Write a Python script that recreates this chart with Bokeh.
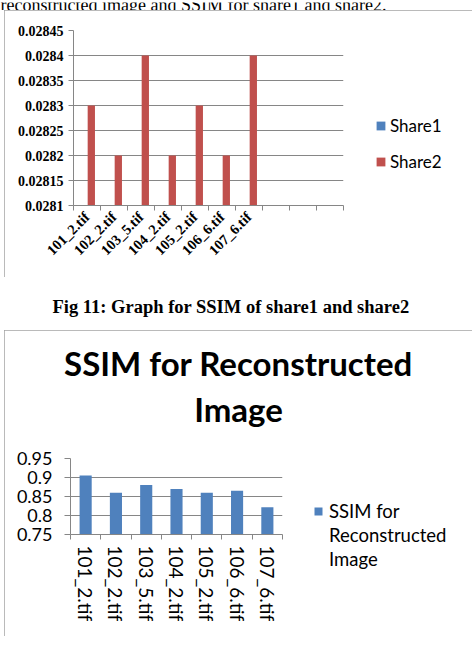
import math

from bokeh.embed import file_html
from bokeh.models import (CustomJSTickFormatter, FixedTicker, Label, Legend,
                          LegendItem, Range1d)
from bokeh.plotting import figure
from bokeh.resources import INLINE

# ---- data -------------------------------------------------------------
files = ["101_2.tif", "102_2.tif", "103_5.tif", "104_2.tif",
         "105_2.tif", "106_6.tif", "107_6.tif"]

# SSIM of the two shares (Share1 carries no values in this chart)
share1 = []
share2 = [0.0283, 0.0282, 0.0284, 0.0282, 0.0283, 0.0282, 0.0284]
share_slots = 10
share_ticks = [0.0281, 0.02815, 0.0282, 0.02825, 0.0283, 0.02835, 0.0284, 0.02845]
share_series = ["Share1", "Share2"]

# SSIM of the reconstructed image
ssim = [0.905, 0.86, 0.88, 0.87, 0.86, 0.865, 0.822]
ssim_ticks = [0.75, 0.8, 0.85, 0.9, 0.95]

head_text = "reconstructed image and SSIM for share1 and share2."
caption_text = "Fig 11: Graph for SSIM of share1 and share2"
ssim_title = ["SSIM for Reconstructed", "Image"]
ssim_legend = ["SSIM for", "Reconstructed", "Image"]

# ---- styling ----------------------------------------------------------
GRID = "#868686"
BLUE = "#4F81BD"
RED = "#C0504D"
SERIF = "Liberation Serif"
SANS = "Lato"


def place(p, left, top, boxed=False):
    """Pin a root element at a fixed spot of the page."""
    st = {"position": "absolute", "left": "%dpx" % left, "top": "%dpx" % top,
          "width": "%dpx" % p.width, "height": "%dpx" % p.height}
    if boxed:
        st.update({"outline": "2px solid #a3a3a3", "outline-offset": "-2px"})
    p.styles = st
    return p


name_fmt = CustomJSTickFormatter(args=dict(names=files),
                                 code="return names[Math.floor(tick)] || '';")


def num_fmt(digits):
    return CustomJSTickFormatter(
        code="return String(parseFloat(tick.toFixed(%d)));" % digits)


def blank_fig(width, height):
    p = figure(width=width, height=height, x_range=Range1d(0, width),
               y_range=Range1d(0, height), x_axis_type=None, y_axis_type=None,
               output_backend="svg", toolbar_location=None,
               min_border_left=0, min_border_right=0,
               min_border_top=0, min_border_bottom=0,
               outline_line_color=None, border_fill_alpha=0,
               background_fill_alpha=0)
    p.grid.visible = False
    return p


def style_cat_axis(ax, slots):
    ax.ticker = FixedTicker(ticks=centers, minor_ticks=list(range(slots + 1)))
    ax.formatter = name_fmt
    ax.major_tick_out = 0
    ax.major_tick_in = 0
    ax.major_tick_line_color = None
    ax.minor_tick_out = 5
    ax.minor_tick_in = 0
    ax.minor_tick_line_color = GRID
    ax.axis_line_color = GRID
    ax.major_label_text_color = "black"


def style_val_axis(ax, ticks, digits, tick_out):
    ax.ticker = FixedTicker(ticks=ticks)
    ax.formatter = num_fmt(digits)
    ax.major_tick_out = tick_out
    ax.major_tick_in = 0
    ax.major_tick_line_color = GRID
    ax.minor_tick_line_color = None
    ax.axis_line_color = GRID
    ax.major_label_text_color = "black"


centers = [i + 0.5 for i in range(len(files))]

# ---- running text above the first chart --------------------------------
head = place(blank_fig(475, 10), 0, 0)
head.add_layout(Label(x=0, y=7.5, text=head_text, text_font=SERIF,
                      text_font_size="18px", text_color="black",
                      text_baseline="alphabetic"))

# ---- chart 1: SSIM of share1 and share2 --------------------------------
p1 = figure(width=468, height=267, x_range=Range1d(0, share_slots),
            y_range=Range1d(share_ticks[0], share_ticks[-1]),
            output_backend="svg", toolbar_location=None,
            min_border_left=69, min_border_right=129,
            min_border_top=20, min_border_bottom=72,
            outline_line_color=None)
place(p1, 4, 10, boxed=True)

p1.vbar(x=[c - 0.16 for c in centers[:len(share1)]], top=share1,
        bottom=share_ticks[0], width=0.27, fill_color=BLUE, line_color=None)
p1.vbar(x=[c + 0.16 for c in centers], top=share2,
        bottom=share_ticks[0], width=0.27, fill_color=RED, line_color=None)

xa = p1.xaxis[0]
style_cat_axis(xa, share_slots)
xa.major_label_orientation = math.pi / 4
xa.major_label_text_font = SERIF
xa.major_label_text_font_style = "bold"
xa.major_label_text_font_size = "14.5px"
xa.major_label_standoff = 4

ya = p1.yaxis[0]
style_val_axis(ya, share_ticks, 6, 5)
ya.major_label_text_font = SERIF
ya.major_label_text_font_style = "bold"
ya.major_label_text_font_size = "14px"
ya.major_label_standoff = 5

p1.xgrid.visible = False
p1.ygrid.ticker = ya.ticker
p1.ygrid.grid_line_color = GRID

# legend of chart 1, set beside the plot area (hidden key glyphs)
lg1 = place(blank_fig(110, 90), 360, 100)
k1 = lg1.vbar(x=centers, top=share2, width=0.27, fill_color=BLUE,
              line_color=None, visible=False)
k2 = lg1.vbar(x=centers, top=share2, width=0.27, fill_color=RED,
              line_color=None, visible=False)
lg1.add_layout(Legend(
    items=[LegendItem(label=share_series[0], renderers=[k1]),
           LegendItem(label=share_series[1], renderers=[k2])],
    location=(15, 18), border_line_color=None, background_fill_alpha=0,
    padding=0, margin=0, spacing=15, glyph_width=11, glyph_height=11,
    label_height=20, label_standoff=4, label_text_font=SANS,
    label_text_font_size="17px", label_text_color="black"))

# ---- caption -----------------------------------------------------------
caption = place(blank_fig(475, 53), 0, 277)
caption.add_layout(Label(x=52, y=24, text=caption_text, text_font=SERIF,
                         text_font_size="18.5px", text_font_style="bold",
                         text_color="black", text_baseline="alphabetic"))

# ---- chart 2: SSIM for reconstructed image -----------------------------
p2 = figure(width=468, height=306, x_range=Range1d(0, len(files)),
            y_range=Range1d(ssim_ticks[0], ssim_ticks[-1]),
            output_backend="svg", toolbar_location=None,
            min_border_left=66, min_border_right=190,
            min_border_top=128, min_border_bottom=102,
            outline_line_color=None)
place(p2, 4, 330, boxed=True)

p2.vbar(x=centers, top=ssim, bottom=ssim_ticks[0], width=0.4,
        fill_color=BLUE, line_color=None)

xb = p2.xaxis[0]
style_cat_axis(xb, len(files))
xb.major_label_orientation = "vertical"
xb.major_label_text_font = SANS
xb.major_label_text_font_size = "19px"
xb.major_label_standoff = 6

yb = p2.yaxis[0]
style_val_axis(yb, ssim_ticks, 3, 6)
yb.major_label_text_font = SANS
yb.major_label_text_font_size = "18px"
yb.major_label_standoff = 12

p2.xgrid.visible = False
p2.ygrid.ticker = yb.ticker
p2.ygrid.grid_line_color = GRID

# two-line chart title, centred on the box
tt = place(blank_fig(468, 120), 4, 331)
for line, y in zip(ssim_title, [89, 43]):
    tt.add_layout(Label(x=234, y=y, text=line, text_font=SANS,
                        text_font_size="33px", text_font_style="bold",
                        text_color="black", text_align="center",
                        text_baseline="alphabetic"))

# legend of chart 2 (hidden key glyph)
lg2 = place(blank_fig(170, 90), 300, 490)
k3 = lg2.vbar(x=centers, top=ssim, width=0.4, fill_color=BLUE,
              line_color=None, visible=False)
k0 = lg2.vbar(x=[], top=[], width=0.4, fill_alpha=0, line_alpha=0)
lg2.add_layout(Legend(
    items=[LegendItem(label=ssim_legend[0], renderers=[k3]),
           LegendItem(label=ssim_legend[1], renderers=[k0]),
           LegendItem(label=ssim_legend[2], renderers=[k0])],
    location=(13, 9), border_line_color=None, background_fill_alpha=0,
    padding=0, margin=0, spacing=0, glyph_width=10, glyph_height=10,
    label_height=24, label_standoff=6, label_text_font=SANS,
    label_text_font_size="18.5px", label_text_color="black"))

roots = [head, p1, lg1, caption, p2, tt, lg2]
with open("out.html", "w") as f:
    f.write(file_html(roots, INLINE))
